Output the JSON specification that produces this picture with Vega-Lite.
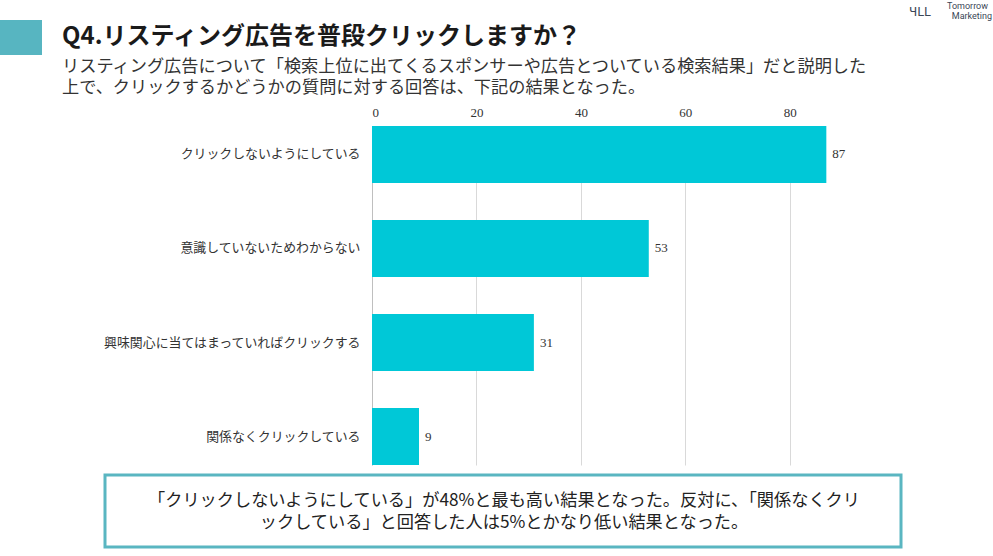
{
  "$schema": "https://vega.github.io/schema/vega-lite/v6.json",
  "width": 470,
  "height": 339,
  "autosize": "none",
  "padding": {"left": 372, "top": 126, "right": 151, "bottom": 91},
  "background": "white",
  "config": {"view": {"stroke": null}, "font": "Noto Sans CJK JP"},
  "datasets": {
    "answers": [
      {"answer": "クリックしないようにしている", "count": 87},
      {"answer": "意識していないためわからない", "count": 53},
      {"answer": "興味関心に当てはまっていればクリックする", "count": 31},
      {"answer": "関係なくクリックしている", "count": 9}
    ]
  },
  "layer": [
    {
      "data": {"name": "answers"},
      "mark": {"type": "bar", "color": "#00C8D7"},
      "encoding": {
        "y": {
          "field": "answer", "type": "nominal", "sort": null,
          "scale": {"paddingInner": 0.394, "paddingOuter": 0},
          "axis": {"title": null, "ticks": false, "domainColor": "#bfbfbf", "domainWidth": 1, "labelPadding": 12, "labelFontSize": 12.9, "labelColor": "#333333", "labelFont": "Noto Sans CJK JP", "labelLimit": 400}
        },
        "x": {
          "field": "count", "type": "quantitative",
          "scale": {"domain": [0, 90], "nice": false},
          "axis": {"orient": "top", "title": null, "values": [0, 20, 40, 60, 80], "grid": true, "gridColor": "#d9d9d9", "domain": false, "ticks": false, "labelFont": "Liberation Serif", "labelFontSize": 13, "labelColor": "#333333", "labelPadding": 7}
        }
      }
    },
    {
      "data": {"name": "answers"},
      "mark": {"type": "text", "align": "left", "baseline": "middle", "dx": 6, "font": "Liberation Serif", "fontSize": 13, "color": "#333333"},
      "encoding": {
        "y": {"field": "answer", "type": "nominal", "sort": null},
        "x": {"field": "count", "type": "quantitative"},
        "text": {"field": "count", "type": "quantitative"}
      }
    },
    {
      "data": {"values": [{}]},
      "mark": {"type": "rect", "color": "#57B5C1"},
      "encoding": {"x": {"value": -372}, "x2": {"value": -330}, "y": {"value": -106}, "y2": {"value": -71}}
    },
    {
      "data": {"values": [{}]},
      "mark": {"type": "text", "text": "Q4.リスティング広告を普段クリックしますか？", "align": "left", "baseline": "middle", "fontSize": 24, "fontWeight": "bold", "color": "#1a1a1a"},
      "encoding": {"x": {"value": -310}, "y": {"value": -89}}
    },
    {
      "data": {"values": [{}]},
      "mark": {"type": "text", "text": "リスティング広告について「検索上位に出てくるスポンサーや広告とついている検索結果」だと説明した", "align": "left", "baseline": "middle", "fontSize": 17.2, "color": "#333333"},
      "encoding": {"x": {"value": -310}, "y": {"value": -59}}
    },
    {
      "data": {"values": [{}]},
      "mark": {"type": "text", "text": "上で、クリックするかどうかの質問に対する回答は、下記の結果となった。", "align": "left", "baseline": "middle", "fontSize": 17.2, "color": "#333333"},
      "encoding": {"x": {"value": -310}, "y": {"value": -38}}
    },
    {
      "data": {"values": [{}]},
      "mark": {"type": "text", "text": "Tomorrow", "align": "right", "baseline": "middle", "fontSize": 9, "font": "Roboto", "color": "#3a4656"},
      "encoding": {"x": {"value": 616}, "y": {"value": -120}}
    },
    {
      "data": {"values": [{}]},
      "mark": {"type": "text", "text": "Marketing", "align": "right", "baseline": "middle", "fontSize": 9, "font": "Roboto", "color": "#3a4656"},
      "encoding": {"x": {"value": 620}, "y": {"value": -110}}
    },
    {
      "data": {"values": [{}]},
      "mark": {"type": "text", "text": "ЧLL", "align": "left", "baseline": "middle", "fontSize": 12, "font": "DejaVu Sans", "color": "#3a4656"},
      "encoding": {"x": {"value": 537}, "y": {"value": -114}}
    },
    {
      "data": {"values": [{}]},
      "mark": {"type": "rect", "fill": "white", "stroke": "#5AB6C1", "strokeWidth": 3},
      "encoding": {"x": {"value": -267}, "x2": {"value": 529}, "y": {"value": 349}, "y2": {"value": 421}}
    },
    {
      "data": {"values": [{}]},
      "mark": {"type": "text", "text": "「クリックしないようにしている」が48%と最も高い結果となった。反対に、「関係なくクリ", "align": "center", "baseline": "middle", "fontSize": 17.2, "color": "#222222"},
      "encoding": {"x": {"value": 132}, "y": {"value": 375}}
    },
    {
      "data": {"values": [{}]},
      "mark": {"type": "text", "text": "ックしている」と回答した人は5%とかなり低い結果となった。", "align": "center", "baseline": "middle", "fontSize": 17.2, "color": "#222222"},
      "encoding": {"x": {"value": 132}, "y": {"value": 397}}
    }
  ]
}
